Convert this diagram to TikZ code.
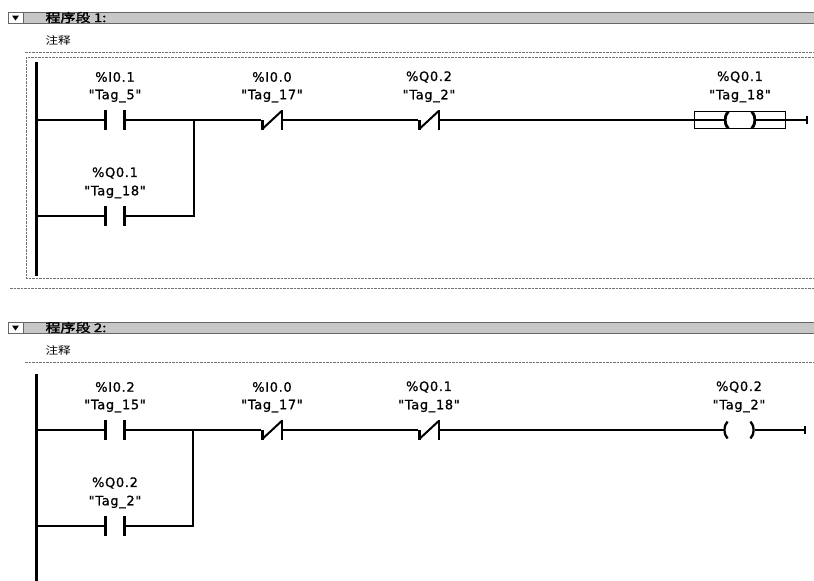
\documentclass[tikz,border=0pt]{standalone}
\usepackage{fontspec}
\setmainfont{DejaVu Sans}
\newfontfamily\lblfont[LetterSpace=5,FakeBold=0.8]{DejaVu Sans}
\newfontfamily\cjk{Noto Sans CJK SC}
\newfontfamily\cjkbold[FakeBold=2]{Noto Sans CJK SC}
\usetikzlibrary{positioning,arrows.meta}
\newcommand{\ppb}{path picture bounding box}
\newcommand{\dq}{\char34\relax}
% barres d'un contact
\newcommand{\nobars}{%
  \draw[line width=2.6pt] ([xshift=1.3pt]\ppb.north west) -- ([xshift=1.3pt]\ppb.south west)
    ([xshift=-1.3pt]\ppb.north east) -- ([xshift=-1.3pt]\ppb.south east);}
\newcommand{\ncbars}{%
  \draw[line width=2.4pt] ([xshift=1.3pt]\ppb.west) -- ([xshift=1.3pt]\ppb.south west)
    ([xshift=-1.3pt]\ppb.north east) -- ([xshift=-1.3pt]\ppb.south east);
  \draw[line width=2pt] ([xshift=1.3pt,yshift=1pt]\ppb.south west) -- ([xshift=-1.3pt,yshift=-1pt]\ppb.north east);}
\newcommand{\parens}{%
  \draw[line width=2.3pt] ([xshift=4pt]\ppb.north west) to[bend right=40] ([xshift=4pt]\ppb.south west)
    ([xshift=-4pt]\ppb.north east) to[bend left=40] ([xshift=-4pt]\ppb.south east);}

\begin{document}
\begin{tikzpicture}[x=1pt,y=-1pt,
  rail/.style={line width=3pt},
  rung/.style={line width=2.6pt},
  wire/.style={line width=1.3pt},
  dotline/.style={black!55, line width=0.8pt, dash pattern=on 2.5pt off 1pt},
  nocont/.style={minimum width=22pt, minimum height=20pt, inner sep=0pt, outer sep=0pt, path picture={\nobars}},
  nccont/.style={minimum width=22pt, minimum height=20pt, inner sep=0pt, outer sep=0pt, path picture={\ncbars}},
  coil/.style={minimum width=31pt, minimum height=17pt, inner sep=0pt, outer sep=0pt, path picture={\parens}},
  selcoil/.style={coil, draw, line width=0.9pt, rounded corners=5pt},
  selbox/.style={draw, line width=1.1pt, minimum width=91pt, minimum height=17pt, inner sep=0pt},
  addr/.style={font=\lblfont\fontsize{13}{15}\selectfont},
  tagtxt/.style={font=\lblfont\fontsize{13}{15}\selectfont},
  title/.style={anchor=west, font=\cjkbold\fontsize{12}{13}\selectfont},
  note/.style={anchor=west, font=\cjk\fontsize{10.5}{12}\selectfont},
  endbar/.style={line width=1.6pt, -{Bar[width=8pt,line width=2.2pt]}}]
  \useasboundingbox (0,0) rectangle (814,581);
  \fill[white] (0,0) rectangle (814,581);

  % entete programme 1
  \draw[black!60, fill=black!22, line width=0.8pt] (8,12) rectangle (814,23);
  \draw[black!60, fill=white, line width=0.8pt] (8,12) rectangle (23,23);
  \fill (12,15.5) -- (19,15.5) -- (15.5,20.5) -- cycle;
  \node[title] (h1) at (42,17.5) {\scalebox{1.25}[1]{程序段 1:}};
  \node[note] (n1) at (42,40) {\scalebox{1.2}[1]{注释}};
  \draw[dotline] (25,52) -- (814,52);
  \draw[dotline] (814,57) -- (26,57) -- (26,278) -- (814,278);
  \draw[dotline] (10,288) -- (814,288);

  % entete programme 2
  \draw[black!60, fill=black!22, line width=0.8pt] (8,322) rectangle (814,333);
  \draw[black!60, fill=white, line width=0.8pt] (8,322) rectangle (23,333);
  \fill (12,325.5) -- (19,325.5) -- (15.5,330.5) -- cycle;
  \node[title] (h2) at (42,327.5) {\scalebox{1.25}[1]{程序段 2:}};
  \node[note] (n2) at (42,350) {\scalebox{1.2}[1]{注释}};
  \draw[dotline] (25,362) -- (814,362);

  % reseau 1
  \coordinate (r1t) at (36,62);
  \coordinate (r1b) at (36,276);
  \node[nocont] (c11) at (115,120) {};
  \node[nocont] (c12) at (115,216) {};
  \coordinate (j1) at (194,120);
  \node[nccont] (c13) at (272,120) {};
  \node[nccont] (c14) at (429,120) {};
  \node[selbox] (s1) at (740,120) {};
  \node[selcoil] (q1) at (740,120) {};
  \coordinate (e1) at (808,120);
  \draw[rail] (r1t) -- (r1b);
  \draw[rung] (r1t |- c11) -- (c11.west);
  \draw[rung] (c11.east) -- (c13.west);
  \draw[rung] (c13.east) -- (c14.west);
  \draw[rung] (c14.east) -- (s1.west);
  \draw[rung] (r1t |- c12) -- (c12.west);
  \draw[rung] (c12.east) -| (j1);
  \draw[wire] (s1.west) -- (q1.west);
  \draw[wire] (q1.east) -- (s1.east);
  \draw[endbar] (s1.east) -- (e1);

  % reseau 2
  \coordinate (r2t) at (36,374);
  \coordinate (r2b) at (36,581);
  \node[nocont] (c21) at (115,430) {};
  \node[nocont] (c22) at (115,526) {};
  \coordinate (j2) at (193,430);
  \node[nccont] (c23) at (272,430) {};
  \node[nccont] (c24) at (429,430) {};
  \node[coil] (q2) at (739,430) {};
  \coordinate (e2) at (806,430);
  \draw[rail] (r2t) -- (r2b);
  \draw[rung] (r2t |- c21) -- (c21.west);
  \draw[rung] (c21.east) -- (c23.west);
  \draw[rung] (c23.east) -- (c24.west);
  \draw[rung] (c24.east) -- (q2.west);
  \draw[rung] (r2t |- c22) -- (c22.west);
  \draw[rung] (c22.east) -| (j2);
  \draw[endbar] (q2.east) -- (e2);

  % operandes
  \foreach \n/\a/\t in {c11/\%I0.1/Tag\_5, c12/\%Q0.1/Tag\_18, c13/\%I0.0/Tag\_17,
      c14/\%Q0.2/Tag\_2, q1/\%Q0.1/Tag\_18, c21/\%I0.2/Tag\_15, c22/\%Q0.2/Tag\_2,
      c23/\%I0.0/Tag\_17, c24/\%Q0.1/Tag\_18, q2/\%Q0.2/Tag\_2}{
    \node[addr] (\n-a) at ([yshift=43pt]\n) {\a};
    \node[tagtxt] (\n-t) at ([yshift=24pt]\n) {\dq\t\dq};
  }
\end{tikzpicture}
\end{document}
